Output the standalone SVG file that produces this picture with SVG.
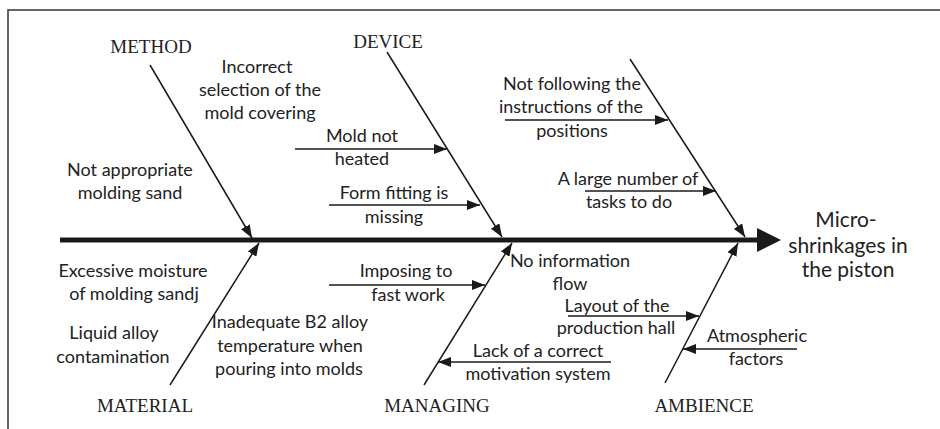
<svg xmlns="http://www.w3.org/2000/svg" width="940" height="429" viewBox="0 0 940 429">
<style>
.frame{stroke:#333;stroke-width:1.5;fill:none}
.bone{stroke:#1a1a1a;stroke-width:1.5;fill:none;marker-end:url(#ah)}
.sub{stroke:#1a1a1a;stroke-width:1.5;fill:none;marker-end:url(#ah)}
.spine{stroke:#1a1a1a;stroke-width:5;fill:none}
.cat{font-family:"Liberation Serif","Times New Roman",serif;font-size:19px;fill:#222;text-anchor:middle}
.t{font-family:Lato,"Liberation Sans",sans-serif;font-size:18px;fill:#222;text-anchor:middle}
.eff{font-family:Lato,"Liberation Sans",sans-serif;font-size:21px;fill:#222;text-anchor:middle}
</style>
<defs>
<marker id="ah" markerUnits="userSpaceOnUse" markerWidth="13" markerHeight="10" refX="13" refY="5" orient="auto">
<path d="M0,0 L13,5 L0,10 z" fill="#1a1a1a"/>
</marker>
</defs>
<rect width="940" height="429" fill="#fff"/>
<path class="frame" d="M8,429 L8,10 L940,10"/>

<g id="connectors">
<line class="spine" x1="60" y1="240" x2="760" y2="240"/>
<polygon points="757,228 781,240 757,252" fill="#1a1a1a"/>
<line class="bone" x1="150" y1="65" x2="252" y2="238"/>
<line class="bone" x1="170" y1="385" x2="259" y2="243"/>
<line class="bone" x1="387" y1="52" x2="502" y2="237"/>
<line class="bone" x1="424" y1="385" x2="512" y2="243"/>
<line class="bone" x1="630" y1="59" x2="745" y2="237"/>
<line class="bone" x1="665" y1="383" x2="738" y2="243"/>
<line class="sub" x1="295" y1="149" x2="447" y2="149"/>
<line class="sub" x1="329" y1="205" x2="480" y2="205"/>
<line class="sub" x1="505" y1="120" x2="668" y2="120"/>
<line class="sub" x1="585" y1="191" x2="716" y2="191"/>
<line class="sub" x1="329" y1="285" x2="485" y2="285"/>
<line class="sub" x1="568" y1="316" x2="699" y2="316"/>
<line class="sub" x1="611" y1="362" x2="438" y2="362"/>
<line class="sub" x1="797" y1="349" x2="683" y2="349"/>
</g>

<g id="method"><text class="cat" x="151" y="53">METHOD</text></g>
<g id="device"><text class="cat" x="388" y="48">DEVICE</text></g>
<g id="material"><text class="cat" x="145" y="412">MATERIAL</text></g>
<g id="managing"><text class="cat" x="437" y="412">MANAGING</text></g>
<g id="ambience"><text class="cat" x="704" y="412">AMBIENCE</text></g>

<g id="effect">
<text class="eff" x="846" y="227">Micro-</text>
<text class="eff" x="848" y="253">shrinkages in</text>
<text class="eff" x="848" y="277">the piston</text>
</g>

<g id="c-incorrect">
<text class="t" x="257" y="73">Incorrect</text>
<text class="t" x="260" y="96">selection of the</text>
<text class="t" x="260" y="119">mold covering</text>
</g>
<g id="c-sand"><text class="t" x="130" y="176">Not appropriate</text><text class="t" x="130" y="199">molding sand</text></g>
<g id="c-mold"><text class="t" x="362" y="142">Mold not</text><text class="t" x="362" y="165">heated</text></g>
<g id="c-form"><text class="t" x="394" y="199">Form fitting is</text><text class="t" x="394" y="223">missing</text></g>
<g id="c-follow"><text class="t" x="572" y="90">Not following the</text><text class="t" x="571" y="113">instructions of the</text><text class="t" x="572" y="137">positions</text></g>
<g id="c-tasks"><text class="t" x="628" y="185">A large number of</text><text class="t" x="629" y="208">tasks to do</text></g>
<g id="c-moist"><text class="t" x="133" y="277">Excessive moisture</text><text class="t" x="134" y="300">of molding sandj</text></g>
<g id="c-liquid"><text class="t" x="114" y="339">Liquid alloy</text><text class="t" x="113" y="363">contamination</text></g>
<g id="c-temp"><text class="t" x="290" y="328">Inadequate B2 alloy</text><text class="t" x="290" y="352">temperature when</text><text class="t" x="289" y="375">pouring into molds</text></g>
<g id="c-impose"><text class="t" x="406" y="277">Imposing to</text><text class="t" x="408" y="301">fast work</text></g>
<g id="c-info"><text class="t" x="570" y="267">No information</text><text class="t" x="570" y="290">flow</text></g>
<g id="c-layout"><text class="t" x="617" y="312">Layout of the</text><text class="t" x="616" y="334">production hall</text></g>
<g id="c-motiv"><text class="t" x="538" y="357">Lack of a correct</text><text class="t" x="538" y="380">motivation system</text></g>
<g id="c-atmo"><text class="t" x="757" y="342">Atmospheric</text><text class="t" x="756" y="365">factors</text></g>
</svg>
